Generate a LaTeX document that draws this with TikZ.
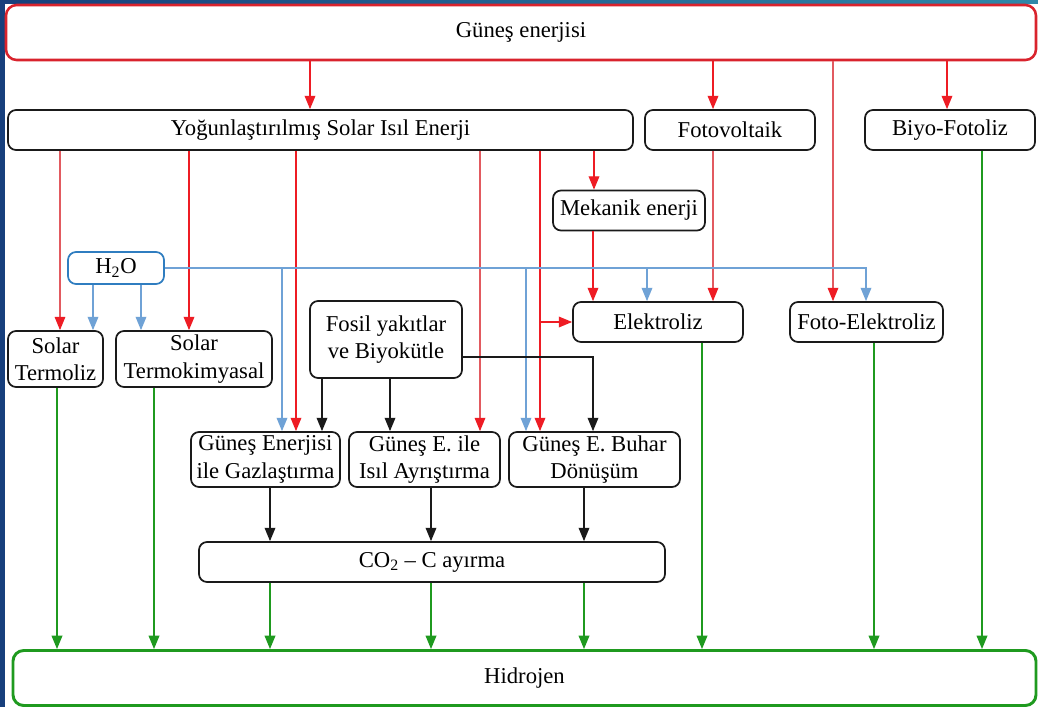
\documentclass[tikz,border=0pt]{standalone}
\usepackage{fontspec}
\setmainfont{Liberation Serif}
\usetikzlibrary{arrows.meta}
\definecolor{bandA}{HTML}{173F7C}
\definecolor{bandB}{HTML}{2F88A9}
\definecolor{rd}{HTML}{EE1C24}
\definecolor{rdlight}{HTML}{E25A60}
\definecolor{rdbox}{HTML}{D9232D}
\definecolor{bl}{HTML}{6FA2D6}
\definecolor{blbox}{HTML}{2F7DC0}
\definecolor{gr}{HTML}{1F9A1F}
\definecolor{blk}{HTML}{1A1A1A}
\begin{document}
\begin{tikzpicture}[x=0.75pt,y=-0.75pt,
  font=\fontsize{17}{20.5}\selectfont,
  sz/.style 2 args={minimum width=#1*0.75pt,minimum height=#2*0.75pt},
  box/.style={draw=blk,line width=1.3pt,rounded corners=6pt,inner sep=0pt,
    align=center,fill=white},
  ra/.style={-{Triangle[length=10pt,width=8pt,fill=rd]},draw=rd,line width=1pt},
  ral/.style={-{Triangle[length=10pt,width=8pt,color=rd,fill=rd]},draw=rdlight,line width=0.9pt},
  ba/.style={-{Triangle[length=10pt,width=8pt,fill=bl]},draw=bl,line width=1pt},
  ka/.style={-{Triangle[length=10pt,width=8pt,fill=blk]},draw=blk,line width=1pt},
  ga/.style={-{Triangle[length=10pt,width=8pt,fill=gr]},draw=gr,line width=1pt}]
\useasboundingbox (0,0) rectangle (1038,707);
\fill[white] (0,0) rectangle (1038,707);
% frame strips
\shade[left color=bandA,right color=bandB] (0,0) rectangle (1038,3);
\fill[bandA] (0,0) rectangle (5,707);

% nodes
\node[box,draw=rdbox,line width=1.9pt,rounded corners=8pt,sz={1030}{55}] (sun) at (521,32.5) {Güneş enerjisi};
\node[box,sz={625}{40}] (ysi) at (320.5,130) {Yoğunlaştırılmış Solar Isıl Enerji};
\node[box,sz={170}{40}] (fv) at (730,130) {Fotovoltaik};
\node[box,sz={170}{40}] (bio) at (950,130) {Biyo-Fotoliz};
\node[box,sz={152}{40}] (mek) at (629,210.5) {Mekanik enerji};
\node[box,draw=blbox,sz={96}{32}] (h2o) at (116,268) {H\textsubscript{2}O};
\node[box,sz={95}{56}] (stermo) at (55.5,359) {Solar\\Termoliz};
\node[box,sz={156}{56}] (skimya) at (194,359) {Solar\\Termokimyasal};
\node[box,sz={152}{77}] (fosil) at (386,339.5) {Fosil yakıtlar\\ve Biyokütle};
\node[box,sz={170}{40}] (elek) at (658,322) {Elektroliz};
\node[box,sz={153}{40}] (fel) at (866.5,322) {Foto-Elektroliz};
\node[box,sz={149}{55}] (gaz) at (265.5,459.5) {Güneş Enerjisi\\ile Gazlaştırma};
\node[box,sz={151}{55}] (isil) at (424.5,459.5) {Güneş E. ile\\Isıl Ayrıştırma};
\node[box,sz={171}{55}] (buhar) at (594.5,459.5) {Güneş E. Buhar\\Dönüşüm};
\node[box,sz={466}{40}] (co2) at (432,562) {CO\textsubscript{2} – C ayırma};
\node[box,draw=gr,line width=2.2pt,rounded corners=8pt,sz={1023}{55}] (hid) at (524.5,678) {Hidrojen};

% solar energy feeds
\draw[ra] (sun.south -| 310,0) -- (ysi.north -| 310,0);
\draw[ra] (sun.south -| 713,0) -- (fv.north -| 713,0);
\draw[ral] (sun.south -| 833,0) -- (fel.north -| 833,0);
\draw[ra] (sun.south -| 947,0) -- (bio.north -| 947,0);

% concentrated solar thermal branches
\draw[ral] (ysi.south -| 60,0) -- (stermo.north -| 60,0);
\draw[ra] (ysi.south -| 189,0) -- (skimya.north -| 189,0);
\draw[ra] (ysi.south -| 296,0) -- (gaz.north -| 296,0);
\draw[ral] (ysi.south -| 480,0) -- (isil.north -| 480,0);
\draw[ra] (ysi.south -| 540,0) -- (buhar.north -| 540,0);
\draw[ra] (elek.west -| 540,0) -- (elek.west);
\draw[ra] (ysi.south -| 594,0) -- (mek.north -| 594,0);
\draw[ra] (mek.south -| 593,0) -- (elek.north -| 593,0);
\draw[ral] (fv.south -| 713,0) -- (elek.north -| 713,0);

% water supply
\draw[ba] (h2o.east) -| (fel.north -| 866,0);
\draw[ba] (h2o.south -| 93,0) -- (stermo.north -| 93,0);
\draw[ba] (h2o.south -| 141,0) -- (skimya.north -| 141,0);
\draw[ba] (h2o.east -| 282,0) -- (gaz.north -| 282,0);
\draw[ba] (h2o.east -| 526,0) -- (buhar.north -| 526,0);
\draw[ba] (h2o.east -| 647,0) -- (elek.north -| 647,0);

% fossil fuels and biomass
\draw[ka] (fosil.south -| 322,0) -- (gaz.north -| 322,0);
\draw[ka] (fosil.south -| 390,0) -- (isil.north -| 390,0);
\draw[ka] (fosil.east |- 0,357) -| (buhar.north -| 593,0);

% into CO2 separation
\draw[ka] (gaz.south -| 270,0) -- (co2.north -| 270,0);
\draw[ka] (isil.south -| 431,0) -- (co2.north -| 431,0);
\draw[ka] (buhar.south -| 584,0) -- (co2.north -| 584,0);

% hydrogen outputs
\draw[ga] (stermo.south -| 57,0) -- (hid.north -| 57,0);
\draw[ga] (skimya.south -| 154,0) -- (hid.north -| 154,0);
\draw[ga] (co2.south -| 270,0) -- (hid.north -| 270,0);
\draw[ga] (co2.south -| 431,0) -- (hid.north -| 431,0);
\draw[ga] (co2.south -| 584,0) -- (hid.north -| 584,0);
\draw[ga] (elek.south -| 702,0) -- (hid.north -| 702,0);
\draw[ga] (fel.south -| 874,0) -- (hid.north -| 874,0);
\draw[ga] (bio.south -| 982,0) -- (hid.north -| 982,0);
\end{tikzpicture}
\end{document}
